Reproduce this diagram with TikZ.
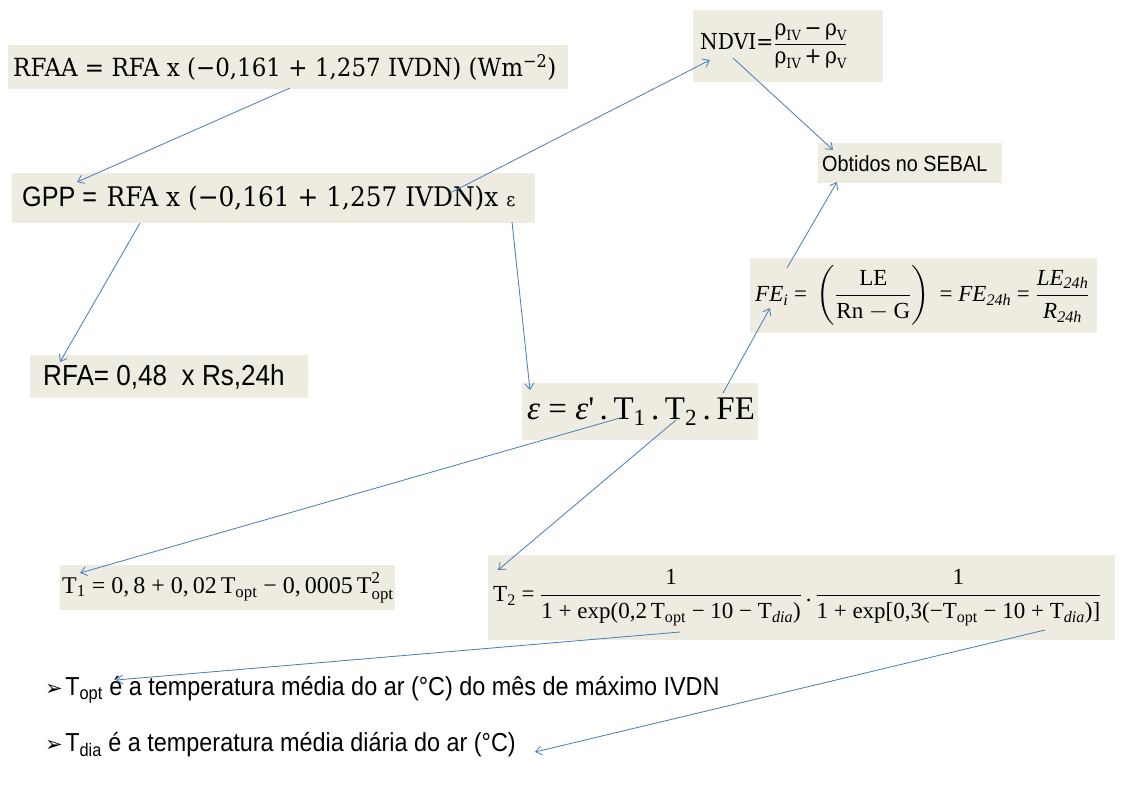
\documentclass[tikz,border=0pt]{standalone}
\usepackage{fontspec}
\usepackage{amsmath}
\usetikzlibrary{arrows.meta}
\setmainfont{Liberation Serif}
\newfontfamily\cambria[FakeStretch=0.92]{DejaVu Serif}
\newfontfamily\arialn[FakeStretch=0.9]{Liberation Sans}
\newfontfamily\tnr{Liberation Serif}
\newfontfamily\dvs{DejaVu Sans}
\definecolor{boxbg}{HTML}{EEECE1}
\definecolor{arr}{HTML}{5080BC}
\newcommand{\fsz}[1]{\fontsize{#1}{#1}\selectfont}
\newcommand{\lbox}[2]{\makebox[#1pt][l]{#2}}
\newcommand{\sbs}[1]{\raisebox{-0.22em}{\fsz{14}#1}}
\begin{document}
\begin{tikzpicture}[x=1pt,y=-1pt,
  box/.style={fill=boxbg, inner ysep=0pt, anchor=north west},
  bullet/.style={anchor=west, inner sep=0pt},
  link/.style={draw=arr, line width=0.85pt, -{Straight Barb[length=6pt,width=9pt]}}]
\useasboundingbox (0,0) rectangle (1129,785);
\fill[white] (0,0) rectangle (1129,785);

\node[box, inner xsep=5pt, minimum height=44] (rfaa) at (8,45)
  {\lbox{550}{\cambria\fsz{25}RFAA = RFA x (−0,161 + 1,257 IVDN) (Wm\textsuperscript{−2})}};

\node[box, inner xsep=7pt, minimum height=72] (ndvi) at (693,10)
  {\lbox{176}{\cambria\fsz{22}NDVI=$\dfrac{\text{ρ\sbs{IV}\,−\,ρ\sbs{V}}}{\text{ρ\sbs{IV}\,+\,ρ\sbs{V}}}$}};

\node[box, inner xsep=10pt, minimum height=50] (gpp) at (12,173)
  {\lbox{503}{{\arialn\fsz{28}GPP = }\ {\cambria\fsz{27}RFA x (−0,161 + 1,257 IVDN)x {\fsz{19}ε}}}};

\node[box, inner xsep=4pt, minimum height=40] (sebal) at (818,143)
  {\lbox{176}{\arialn\fsz{22}Obtidos no SEBAL}};

\node[box, inner xsep=5pt, minimum height=75] (fe) at (750,258)
  {\lbox{337}{\tnr\fsz{23}$\textit{FE}_{\textit{i}}\text{ = }\left(\dfrac{\text{LE}}{\text{Rn}-\text{G}}\right)\text{ = }\textit{FE}_{\textit{24h}}\text{ = }\dfrac{\textit{LE}_{\textit{24h}}}{\textit{R}_{\textit{24h}}}$}};

\node[box, inner xsep=13pt, minimum height=43] (rfa) at (30,355)
  {\lbox{252}{\arialn\fsz{29}RFA= 0,48\ \ x Rs,24h}};

\node[box, inner xsep=5pt, minimum height=57] (eps) at (522,383)
  {\lbox{226}{\tnr\fsz{33}\textit{ε} = \textit{ε}'\,.\,T\textsubscript{1}\,.\,T\textsubscript{2}\,.\,FE}};

\node[box, inner xsep=2pt, minimum height=45] (tone) at (60,565)
  {\lbox{331}{\tnr\fsz{24}$\text{T}_{\text{1}}\text{ = 0,\,8 + 0,\,02\,T}_{\text{opt}}\text{ − 0,\,0005\,T}^{\text{2}}_{\text{opt}}$}};

\node[box, inner xsep=5pt, minimum height=85] (ttwo) at (488,555)
  {\lbox{617}{\tnr\fsz{23}T\textsubscript{2} = $\dfrac{\text{1}}{\text{1 + exp(0,2\,T\textsubscript{opt} − 10 − T\textsubscript{\textit{dia}})}}\text{\,.\,}\dfrac{\text{1}}{\text{1 + exp[0,3(−T\textsubscript{opt} − 10 + T\textsubscript{\textit{dia}})]}}$}};

\node[bullet] (topt) at (45,690)
  {{\dvs\fsz{21}➢}\ {\arialn\fsz{26}T\textsubscript{opt} é a temperatura média do ar (°C) do mês de máximo IVDN}};
\node[bullet] (tdia) at (45,745)
  {{\dvs\fsz{21}➢}\ {\arialn\fsz{26}T\textsubscript{dia} é a temperatura média diária do ar (°C)}};

\coordinate (a1s) at (290,88);   \coordinate (a1e) at (77,182);
\coordinate (a2s) at (450,193);  \coordinate (a2e) at (710,60);
\coordinate (a3s) at (733,58);   \coordinate (a3e) at (833,150);
\coordinate (a4s) at (787,268);  \coordinate (a4e) at (837,182);
\coordinate (a5s) at (512,222);  \coordinate (a5e) at (530,390);
\coordinate (a6s) at (140,223);  \coordinate (a6e) at (60,362);
\coordinate (a7s) at (723,393);  \coordinate (a7e) at (770,308);
\coordinate (a8s) at (620,418);  \coordinate (a8e) at (80,573);
\coordinate (a9s) at (676,420);  \coordinate (a9e) at (498,570);
\coordinate (a10s) at (680,632); \coordinate (a10e) at (116,680);
\coordinate (a11s) at (1045,630);\coordinate (a11e) at (535,752);

\draw[link] (a1s) -- (a1e);
\draw[link] (a2s) -- (a2e);
\draw[link] (a3s) -- (a3e);
\draw[link] (a4s) -- (a4e);
\draw[link] (a5s) -- (a5e);
\draw[link] (a6s) -- (a6e);
\draw[link] (a7s) -- (a7e);
\draw[link] (a8s) -- (a8e);
\draw[link] (a9s) -- (a9e);
\draw[link] (a10s) -- (a10e);
\draw[link] (a11s) -- (a11e);
\end{tikzpicture}
\end{document}
